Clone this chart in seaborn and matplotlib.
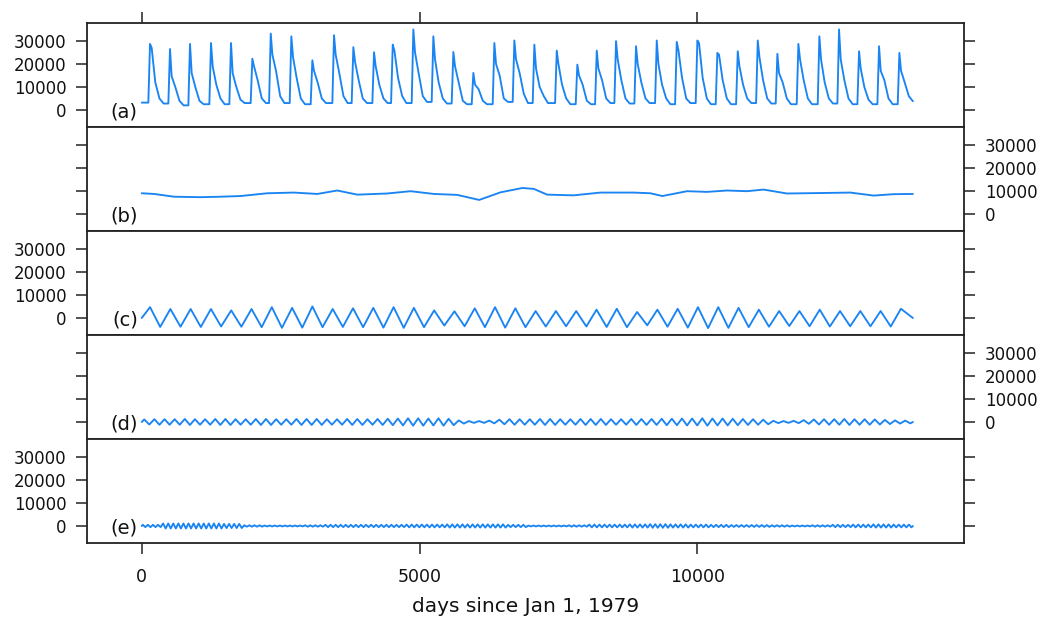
import numpy as np
import pandas as pd
import matplotlib
matplotlib.use("Agg")
import matplotlib.pyplot as plt
import seaborn as sns

# ---------------- data ----------------
# (a) observed daily flow: per-year key values
a_start = 3200
a_end_day = 13880
a_end = 3800
a_peak_day = [149, 509, 869, 1247, 1607, 1991, 2322, 2693, 3071, 3461,
              3809, 4181, 4518, 4889, 5249, 5609, 5969, 6347, 6707, 7067,
              7470, 7841, 8190, 8537, 8897, 9270, 9630, 10001, 10361, 10728,
              11088, 11441, 11819, 12197, 12551, 12911, 13271, 13637]
a_peak = [28700, 26500, 28700, 29100, 29100, 22300, 33200, 32000, 21600, 32500,
          27300, 25100, 28400, 35000, 32000, 25200, 16100, 29100, 30200, 28400,
          25800, 19700, 25800, 29900, 27700, 30200, 29600, 30200, 24800, 25500,
          30200, 24400, 28700, 32000, 35000, 25500, 27700, 24800]
a_p10 = [27000, 14600, 16000, 19000, 16000, 19000, 24000, 23000, 17000, 24000,
         21000, 19000, 25800, 25000, 22000, 19000, 11000, 20000, 22000, 18000,
         20000, 15000, 18000, 22000, 20000, 20000, 26000, 29000, 24000, 19000,
         23000, 16000, 22000, 22000, 22000, 18000, 17000, 17000]
a_p40 = [12000, 10000, 10000, 11000, 10000, 13000, 17000, 14000, 12000, 16000,
         13000, 11000, 14000, 16000, 12000, 12000, 9000, 15000, 16000, 10000,
         11000, 11000, 13000, 13000, 12000, 11000, 14000, 14000, 13000, 11000,
         13000, 12000, 13000, 12000, 13000, 10000, 13000, 12000]
a_p90 = [5000, 4000, 4000, 5000, 4500, 5000, 6000, 5000, 5000, 6000,
         5000, 5000, 6000, 6000, 5000, 4000, 4000, 5000, 7000, 6000,
         5000, 4000, 5000, 5000, 5000, 5000, 5000, 5000, 5000, 5000,
         5000, 5000, 5000, 5000, 5000, 4500, 5000, 6000]
a_base = [2800, 2000, 2500, 2500, 3000, 3000, 3000, 2500, 3000, 3000,
          3000, 3000, 3000, 3500, 2800, 2500, 2500, 3500, 3000, 3000,
          2500, 2500, 3000, 2800, 3000, 2500, 3000, 2500, 2500, 3000,
          2800, 2500, 2500, 2800, 2500, 2500, 2500, 3800]
# days after each peak at which the key values above were read
a_offsets = [-30, 0, 30, 95, 170, 245]

# (b) low-frequency component
b_day = [0, 222, 582, 1061, 1421, 1781, 2260, 2740, 3160, 3520, 3880, 4420,
         4838, 5258, 5678, 6074, 6457, 6853, 7057, 7297, 7776, 8256, 8855,
         9155, 9371, 9815, 10175, 10534, 10894, 11194, 11614, 12213, 12753,
         13172, 13532, 13880]
b_val = [9000, 8700, 7500, 7300, 7500, 7800, 9000, 9300, 8700, 10200, 8400,
         8900, 9900, 8700, 8300, 6100, 9400, 11300, 10900, 8400, 8100, 9300,
         9300, 9000, 7800, 9900, 9600, 10200, 9900, 10600, 8900, 9100, 9300,
         8000, 8600, 8700]

# (c) annual component: peaks and troughs
c_first_peak_day = 150
c_period = 365.25
c_start = 0
c_end = 0
c_peaks = [4700, 3900, 3900, 3900, 3300, 3900, 4700, 4400, 5000, 3900,
           4200, 4400, 4700, 4400, 3300, 2900, 4200, 4700, 4200, 3000,
           3000, 3000, 3600, 4000, 2600, 3600, 4000, 4700, 4700, 4400,
           3600, 3000, 3000, 3600, 3000, 3000, 3000, 4000]
c_troughs = [-3900, -3800, -3900, -3700, -3800, -4000, -4300, -4200, -4000, -3900,
             -4000, -4200, -4300, -4000, -3300, -3600, -4000, -4200, -4000, -3700,
             -3600, -3700, -3900, -4000, -3200, -3800, -4200, -4400, -4300, -4000,
             -3800, -3500, -3600, -3700, -3600, -3600, -3700]

# (d) semi-annual component: amplitude of each cycle
d_first_peak_day = 45
d_period = 182.625
d_amp = [1100, 1200, 1200, 1200, 1300, 1200, 1200, 1300, 1300, 1200,
         1200, 1300, 1300, 1200, 1200, 1300, 1300, 1300, 1200, 1200,
         1300, 1300, 1200, 1300, 1400, 1500, 1600, 1600, 1500, 1600,
         1400, 700, 400, 400, 600, 1000, 1200, 1200, 1200, 1300,
         1300, 1200, 1200, 1300, 1300, 1300, 1200, 1200, 1300, 1300,
         1300, 1400, 1400, 1500, 1500, 1600, 1500, 1500, 1400, 1300,
         1200, 1000, 500, 400, 500, 800, 1100, 1200, 1200, 1300,
         1200, 1200, 1100, 900, 700, 600]

# (e) higher-frequency component: amplitude per year (4 cycles a year)
e_first_peak_day = 20
e_period = 91.3125
e_cycles_per_year = 4
e_amp_year = [500, 1100, 1100, 1100, 900, 300, 200, 200, 300, 500,
              500, 500, 500, 600, 600, 700, 700, 700, 500, 200,
              200, 300, 600, 600, 700, 800, 700, 600, 500, 400,
              400, 300, 200, 300, 500, 600, 700, 600]

panel_labels = ["(a)", "(b)", "(c)", "(d)", "(e)"]
x_ticks = [0, 5000, 10000]
y_ticks = [0, 10000, 20000, 30000]
x_label = "days since Jan 1, 1979"

# ---------------- build tables ----------------
def frame_a():
    days, vals = [0], [a_start]
    prev = a_start
    for k in range(len(a_peak)):
        p = a_peak_day[k]
        days += [p + o for o in a_offsets]
        vals += [prev, a_peak[k], a_p10[k], a_p40[k], a_p90[k], a_base[k]]
        prev = a_base[k]
    d = np.array(days, float)
    v = np.array(vals, float)
    keep = d < a_end_day
    d = np.append(d[keep], a_end_day)
    v = np.append(v[keep], a_end)
    return pd.DataFrame({"day": d, "value": v})


def frame_c():
    days, vals = [0], [c_start]
    for k, pk in enumerate(c_peaks):
        t = c_first_peak_day + k * c_period
        days.append(t)
        vals.append(pk)
        if k < len(c_troughs):
            days.append(t + c_period / 2)
            vals.append(c_troughs[k])
    days.append(a_end_day)
    vals.append(c_end)
    return pd.DataFrame({"day": days, "value": vals})


def frame_osc(first, period, amps):
    days, vals = [0.0], [0.0]
    for k, amp in enumerate(amps):
        t = first + k * period
        for dt, sgn in ((0, 1), (period / 2, -1)):
            if t + dt < a_end_day:
                days.append(t + dt)
                vals.append(sgn * amp)
    days.append(a_end_day)
    vals.append(0.0)
    return pd.DataFrame({"day": days, "value": vals})


e_amp = [a for a in e_amp_year for _ in range(e_cycles_per_year)]

frames = [
    frame_a(),
    pd.DataFrame({"day": b_day, "value": b_val}),
    frame_c(),
    frame_osc(d_first_peak_day, d_period, d_amp),
    frame_osc(e_first_peak_day, e_period, e_amp),
]

# ---------------- draw ----------------
sns.set_theme(style="ticks")
plt.rcParams["font.family"] = ["DejaVu Sans"]

LINE = "#1a84f2"
EDGE = "#222222"

fig, axes = plt.subplots(5, 1, figsize=(10.42, 6.21), dpi=100, sharex=True)
fig.subplots_adjust(left=87 / 1042, right=964 / 1042,
                    top=1 - 23 / 621, bottom=1 - 543 / 621, hspace=0)

for i, (ax, df, lab) in enumerate(zip(axes, frames, panel_labels)):
    sns.lineplot(data=df, x="day", y="value", ax=ax, color=LINE, lw=1.35,
                 estimator=None, sort=False)
    ax.set_xlim(-985, 14800)
    ax.set_ylim(-7400, 37800)
    ax.set_yticks(y_ticks)
    ax.set_xlabel("")
    ax.set_ylabel("")
    left_lab = (i % 2 == 0)
    ax.tick_params(axis="y", which="both", left=True, right=True,
                   labelleft=left_lab, labelright=not left_lab,
                   direction="out", length=7.9, width=1.1, color=EDGE,
                   labelcolor="#111111", labelsize=12, pad=7)
    ax.tick_params(axis="x", top=False, bottom=False,
                   labeltop=False, labelbottom=False)
    for s in ax.spines.values():
        s.set_linewidth(1.3)
        s.set_color(EDGE)
    ax.text(0.058, 0.14, lab, transform=ax.transAxes, ha="right",
            va="center", fontsize=14, color="#111111")

axes[0].set_xticks(x_ticks)
axes[0].tick_params(axis="x", top=True, bottom=False, labeltop=False,
                    labelbottom=False, direction="out", length=7.9,
                    width=1.1, color=EDGE)
axes[-1].tick_params(axis="x", top=False, bottom=True, labelbottom=True,
                     direction="out", length=7.9, width=1.1, color=EDGE,
                     labelcolor="#111111", labelsize=12.5, pad=10)
axes[-1].set_xlabel(x_label, fontsize=14.5, color="#111111", labelpad=8)

fig.savefig("out.png", dpi=100, facecolor="white")
